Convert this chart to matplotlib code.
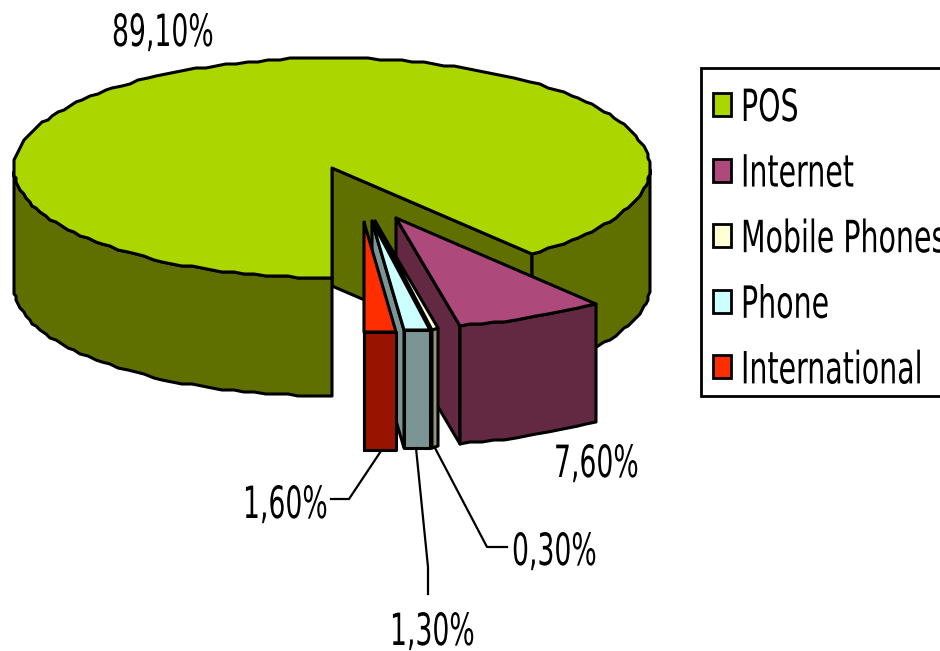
import numpy as np
import matplotlib
matplotlib.use("Agg")
import matplotlib.pyplot as plt
from matplotlib.patches import Polygon, Rectangle
from matplotlib.patheffects import AbstractPathEffect
from matplotlib.transforms import Affine2D

labels = ["POS", "Internet", "Mobile Phones", "Phone", "International"]
values = [89.1, 7.6, 0.3, 1.3, 1.6]
top_colors = ["#ABD600", "#AD4A7B", "#FFFFD6", "#CCFFFF", "#FF2E00"]
side_colors = ["#607000", "#632942", "#949478", "#7B9494", "#991400"]
explode = [(0, 0), (64, 50), (43, 53), (40, 53), (32, 54)]

# pie geometry, in pixels of the picture
cx, cy = 332, 168
rx, ry = 318, 110
depth = 118
jag = 2.0
lw = 2.2


class Squeeze(AbstractPathEffect):
    # the original text is narrow and tall
    def __init__(self, sx):
        self.sx = sx

    def draw_path(self, renderer, gc, tpath, affine, rgbFace=None):
        renderer.draw_path(gc, tpath, Affine2D().scale(self.sx, 1) + affine, rgbFace)


def rim(t, dx, dy, drop=0):
    x = cx + dx + rx * np.cos(np.radians(t))
    y = cy + dy - ry * np.sin(np.radians(t))
    # stepped outline like the low resolution original
    return np.column_stack([np.round(x / jag) * jag, np.round(y / jag) * jag + drop])


def arc(a, b):
    return np.linspace(a, b, max(2, int(abs(b - a) / 2) + 1))


def poly(ax, pts, color):
    ax.add_patch(Polygon(pts, closed=True, facecolor=color, edgecolor="black",
                         linewidth=lw, joinstyle="round"))


def draw_slice(ax, a, b, off, top, side):
    dx, dy = off
    apex = np.array([[cx + dx, cy + dy]])
    end = rim(np.array([b]), dx, dy)
    # cut face
    poly(ax, np.vstack([apex, end, end + [0, depth], apex + [0, depth]]), side)
    # outer wall, only the front half can be seen
    t = arc(a, b)
    front = np.sin(np.radians(t)) <= 0.001
    idx = np.flatnonzero(front)
    for run in np.split(idx, np.flatnonzero(np.diff(idx) > 1) + 1):
        if len(run) < 2:
            continue
        edge = rim(t[run], dx, dy)
        poly(ax, np.vstack([edge, (edge + [0, depth])[::-1]]), side)
    poly(ax, np.vstack([apex, rim(t, dx, dy)]), top)


fig = plt.figure(figsize=(9.4, 6.51), dpi=100)
ax = fig.add_axes([0, 0, 1, 1])
ax.set_xlim(0, 940)
ax.set_ylim(651, 0)
ax.axis("off")

angle = -90.0
total = sum(values)
for v, off, top, side in zip(values, explode, top_colors, side_colors):
    next_angle = angle - 360 * v / total
    draw_slice(ax, angle, next_angle, off, top, side)
    angle = next_angle

# value labels
label_pos = [(112, 46), (554, 477), (512, 565), (390, 645), (243, 518)]
for v, (x, y) in zip(values, label_pos):
    ax.text(x, y, f"{v:.2f}".replace(".", ",") + "%", fontsize=32, color="black",
            ha="left", va="baseline", path_effects=[Squeeze(0.6)])

# leader lines
ax.plot([331, 349, 381], [499, 499, 451], color="black", lw=1.6)
ax.plot([507, 487, 435], [547, 547, 448], color="black", lw=1.6)
ax.plot([428, 428, 416], [594, 567, 448], color="black", lw=1.6)

# legend
ax.add_patch(Rectangle((701, 68), 245, 328, facecolor="white", edgecolor="black", linewidth=2))
for i, (name, c) in enumerate(zip(labels, top_colors)):
    y0 = 93 + 65.6 * i
    ax.add_patch(Rectangle((713, y0), 18, 23, facecolor=c, edgecolor="black", linewidth=2))
    ax.text(741, y0 + 28, name, fontsize=32, color="black", ha="left", va="baseline",
            path_effects=[Squeeze(0.64)])

fig.savefig("out.png", dpi=100)
